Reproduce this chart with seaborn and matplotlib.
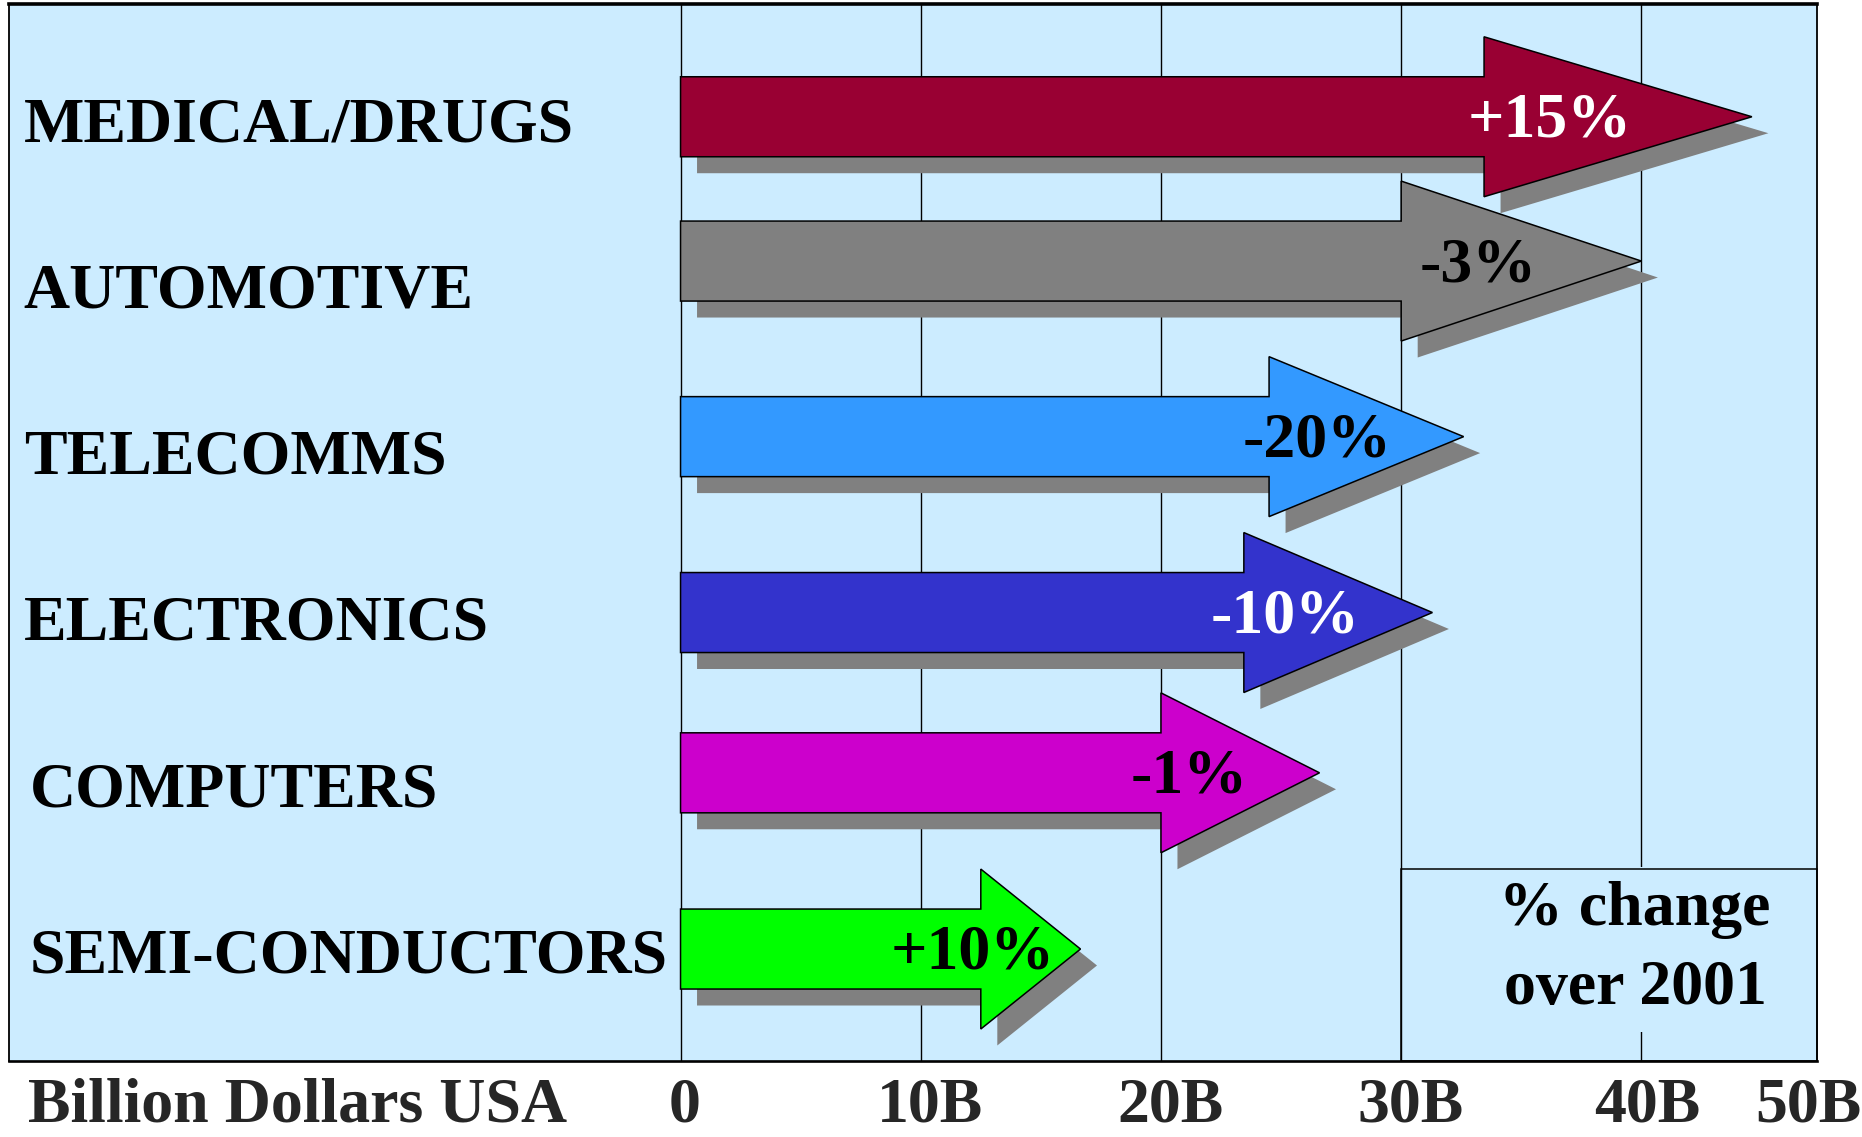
import numpy as np
import pandas as pd
import matplotlib
matplotlib.use("Agg")
import matplotlib.pyplot as plt
import seaborn as sns
from matplotlib.patches import Polygon, Rectangle
from matplotlib.transforms import blended_transform_factory

# ---------------- data ----------------
categories = ["MEDICAL/DRUGS", "AUTOMOTIVE", "TELECOMMS",
              "ELECTRONICS", "COMPUTERS", "SEMI-CONDUCTORS"]
sales_billion = [44.6, 40.0, 32.6, 31.3, 26.6, 16.65]     # arrow tip (billion USD)
head_start = [33.45, 30.0, 24.5, 23.45, 20.0, 12.5]        # where the arrow head begins
pct_change = ["+15%", "-3%", "-20%", "-10%", "-1%", "+10%"]
arrow_colors = ["#990033", "#808080", "#3399FF", "#3333CC", "#CC00CC", "#00FF00"]
pct_colors = ["white", "black", "black", "white", "black", "black"]
grid_values = [0, 10, 20, 30, 40]
tick_labels = ["0", "10B", "20B", "30B", "40B", "50B"]
axis_title = "Billion Dollars USA"
note_text = "% change\nover 2001"

df = pd.DataFrame({"category": categories, "value": sales_billion,
                   "head": head_start, "pct": pct_change,
                   "color": arrow_colors, "pct_color": pct_colors})

# ---------------- layout / style ----------------
BG = "#CCECFF"
SHADOW = "#808080"
FS = 46
arrow_offset = [-0.012, -0.144, -0.088, -0.030, -0.066, -0.006]  # row offsets of arrows
pct_x = [36.17, 33.2, 26.5, 25.17, 21.17, 12.18]
tick_x = [0.15, 10.39, 20.38, 30.37, 40.25, 46.97]
shaft_half = 0.2406
head_half = 0.481
shadow_dx, shadow_dy = 0.687, 0.099
x_min, x_max = -27.935, 47.31
y_top, y_bot = -0.6884, 5.665
bottom_text_y = -0.0575

sns.set_theme(style="white")
plt.rcParams["font.family"] = ["Liberation Serif", "DejaVu Serif"]
plt.rcParams["font.weight"] = "bold"

fig = plt.figure(figsize=(18.62, 11.37), dpi=100, facecolor="white")
ax = fig.add_axes([0.0051, 0.06719, 0.97073, 0.92903])
ax.set_facecolor(BG)
ax.set_xlim(x_min, x_max)
ax.set_ylim(y_bot, y_top)

ax.set_xticks(grid_values)
ax.set_xticklabels([])
ax.set_yticks([])
ax.tick_params(length=0)
ax.grid(axis="x", color="black", lw=1.0)
ax.grid(axis="y", visible=False)
ax.set_axisbelow(True)
for side, lw in [("left", 1.3), ("right", 1.3), ("top", 2.6), ("bottom", 1.9)]:
    ax.spines[side].set_visible(True)
    ax.spines[side].set_color("black")
    ax.spines[side].set_linewidth(lw)

lab_tr = blended_transform_factory(ax.transAxes, ax.transData)

for i, row in df.iterrows():
    yc = i + arrow_offset[i]
    hb, tip = row["head"], row["value"]
    pts = np.array([
        [0, yc - shaft_half], [hb, yc - shaft_half], [hb, yc - head_half],
        [tip, yc], [hb, yc + head_half], [hb, yc + shaft_half], [0, yc + shaft_half]])
    ax.add_patch(Polygon(pts + np.array([shadow_dx, shadow_dy]), closed=True,
                         fc=SHADOW, ec="none", zorder=2))
    ax.add_patch(Polygon(pts, closed=True, fc=row["color"], ec="black",
                         lw=1.1, joinstyle="miter", zorder=3))
    ax.text(pct_x[i], yc + 0.12, row["pct"], ha="center", va="baseline",
            fontsize=FS, fontweight="bold", color=row["pct_color"], zorder=4)
    ax.text(0.0079 if i < 4 else 0.0112, i + 0.134, row["category"],
            transform=lab_tr, ha="left", va="baseline",
            fontsize=FS, fontweight="bold", color="black", zorder=4)

# "% change over 2001" box
box_top = 4.513
ax.add_patch(Rectangle((30, box_top), x_max - 30, y_bot - box_top, fill=False,
                       ec="black", lw=1.1, zorder=5, clip_on=False))
ax.text(39.74, 5.325, note_text, ha="center", va="baseline", fontsize=FS,
        fontweight="bold", linespacing=1.47, color="black", zorder=4,
        bbox=dict(boxstyle="square,pad=0.22", fc=BG, ec="none"))

# bottom tick labels and axis title
xt = ax.get_xaxis_transform()
for x, lab in zip(tick_x, tick_labels):
    ax.text(x, bottom_text_y, lab, transform=xt, ha="center", va="baseline",
            fontsize=FS, fontweight="bold", clip_on=False)
ax.text(0.0102, bottom_text_y, axis_title, transform=ax.transAxes, ha="left",
        va="baseline", fontsize=FS, fontweight="bold", clip_on=False)

fig.savefig("out.png", dpi=100, facecolor="white")
